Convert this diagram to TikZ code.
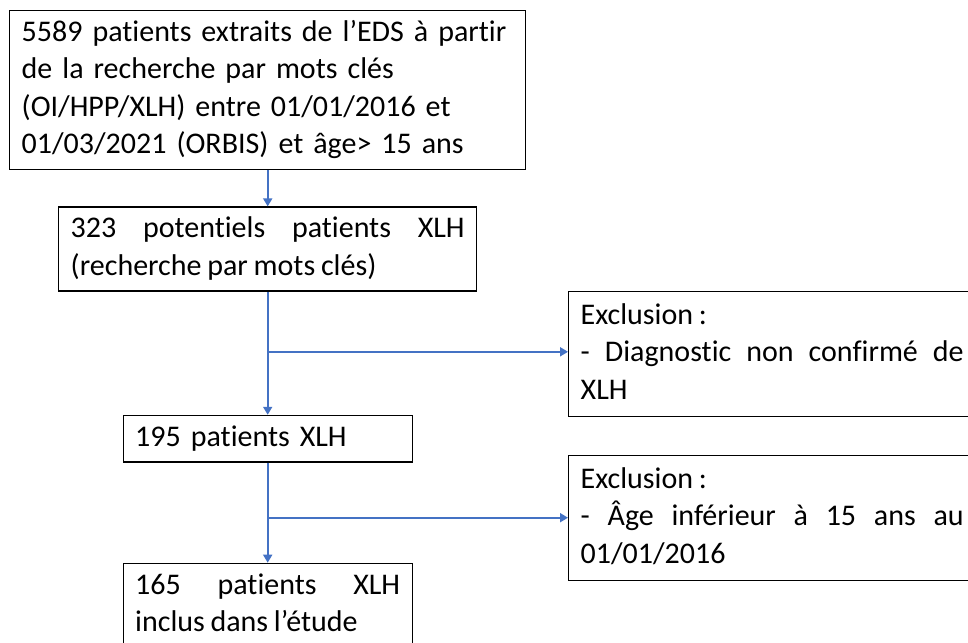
\documentclass[tikz,border=0pt]{standalone}
\usepackage{fontspec}
\setmainfont{Carlito}[Ligatures={TeX,NoCommon},Numbers={Lining,Monospaced},WordSpace=0.85]
\usetikzlibrary{arrows.meta,positioning}
\definecolor{flowblue}{RGB}{68,114,196}
\tikzstyle{box} = [draw=black, line width=1.4pt, inner xsep=12pt, inner ysep=4.5pt, font=\fontsize{30}{37.5}\selectfont]
\tikzstyle{exclbox} = [box, anchor=west, text width=383pt, align=justify, inner ysep=6.5pt]
\tikzstyle{flow} = [line width=1.8pt, draw=flowblue, -{Triangle[length=8pt,width=9pt]}]

\begin{document}
\begin{tikzpicture}[x=1pt,y=-1pt,node distance=38pt]
\useasboundingbox (0,0) rectangle (968,642);
\node (extract) [box, anchor=north west, text width=492pt, align=left] at (9,10)
  {\strut\mbox{5589 patients extraits de l’EDS à partir}\\ \mbox{de la recherche par mots clés}\\
   \mbox{(OI/HPP/XLH) entre 01/01/2016 et}\\ \mbox{01/03/2021 (ORBIS) et âge> 15 ans}\strut};
\node (potential) [box, below=36pt of extract, text width=394pt, align=justify]
  {\strut 323 potentiels patients XLH\linebreak (recherche par mots clés)\strut};
\node (confirmed) [box, below=123pt of potential, text width=265pt, align=left]
  {\strut 195 patients XLH\strut};
\node (included) [box, below=100pt of confirmed, text width=265pt, align=justify]
  {\strut 165 patients XLH\linebreak inclus dans l’étude\strut};

\node (excl1) [exclbox] at (568,354)
  {\strut Exclusion :\\ - Diagnostic non confirmé de\linebreak XLH\strut};
\node (excl2) [exclbox] at (568,518)
  {\strut Exclusion :\\ - Âge inférieur à 15 ans au\linebreak 01/01/2016\strut};

\coordinate (split1) at ([yshift=-60pt]potential.south);
\coordinate (split2) at ([yshift=-55pt]confirmed.south);

\draw [flow] (extract) -- (potential);
\draw [flow] (potential) -- (confirmed);
\draw [flow] (confirmed) -- (included);
\draw [flow] (split1) -- (split1 -| excl1.west);
\draw [flow] (split2) -- (split2 -| excl2.west);
\end{tikzpicture}
\end{document}
